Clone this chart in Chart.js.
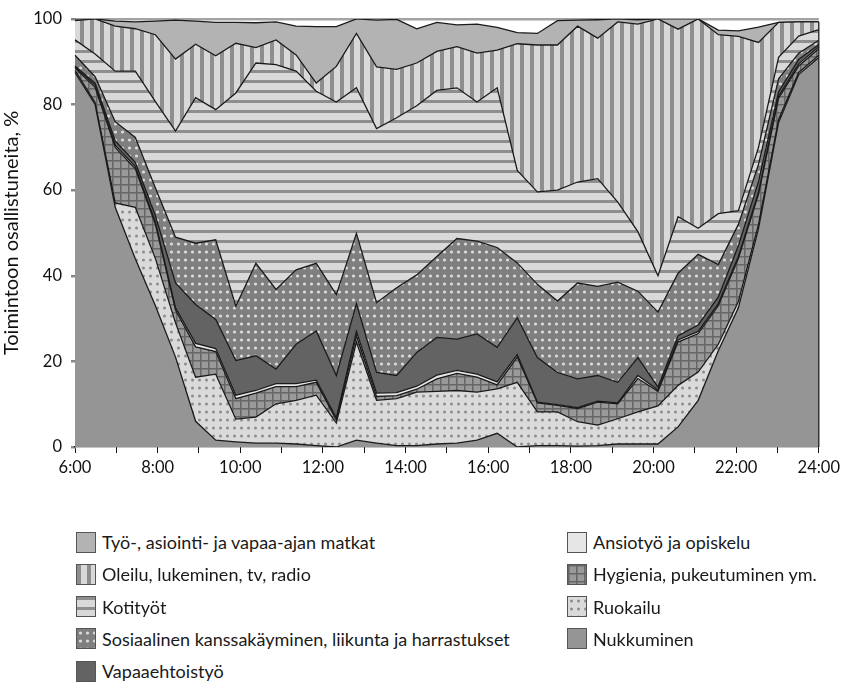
<!DOCTYPE html>
<html>
<head>
<meta charset="utf-8">
<script src="https://cdn.jsdelivr.net/npm/chart.js@4.4.1/dist/chart.umd.min.js"></script>
<style>
  body { margin: 0; background: #fff; font-family: Lato, sans-serif; }
  #wrap { position: relative; width: 845px; height: 684px; }
  #chart { position: absolute; left: 0; top: 0; }
  .item { position: absolute; display: flex; align-items: center; font-size: 18px; color: #1a1a1a; white-space: nowrap; }
  .item canvas { border: 1px solid #555; margin-right: 6px; }
</style>
</head>
<body>
<div id="wrap">
  <canvas id="chart" width="845" height="490"></canvas>
  <div id="legend"></div>
</div>
<script>
// 38 time slots evenly spread between 6:00 and 24:00
const slots = Array.from({ length: 38 }, (_, i) => i);
const tickHours = [6, 8, 10, 12, 14, 16, 18, 20, 22, 24];

const nukkuminen = [87.5, 80, 56, 44, 33, 21, 6, 1.6, 1.2, 0.9, 0.9, 0.7, 0.3, 0, 1.6, 0.9, 0.3, 0.3, 0.7, 0.9, 1.6, 3.2, 0, 0.3, 0.3, 0.2, 0.3, 0.7, 0.7, 0.7, 4.7, 10.9, 22.5, 32.5, 51, 75.8, 87, 91];
const ruokailu = [0.5, 0.5, 1, 12, 11, 8, 10.3, 15.4, 5.3, 6.1, 9.2, 10.2, 11.8, 5.6, 22.9, 10, 11, 12.5, 12.3, 12.3, 11.2, 10.4, 15.1, 7.9, 7.9, 5.7, 4.8, 5.9, 7.5, 8.9, 9.7, 6.6, 1.5, 1.5, 1, 0.7, 0.5, 0.5];
const hygienia = [0.5, 3.5, 13, 9, 8, 3, 7.1, 5.3, 4.8, 5.6, 4, 3.2, 3, 0.7, 1.5, 0.9, 0.7, 0.7, 2.9, 4, 3.5, 0.9, 5.9, 2.1, 1.5, 3.1, 5.4, 3.5, 7.8, 3.4, 10.1, 9, 9, 10, 7, 5, 1.5, 1.5];
const ansiotyo = [0.2, 0.5, 0.5, 0.5, 0.5, 0.5, 0.8, 0.7, 0.8, 0.6, 0.7, 0.7, 0.5, 0.5, 1, 0.8, 0.7, 0.7, 0.9, 0.7, 0.7, 0.7, 0.6, 0.2, 0.2, 0.2, 0.2, 0.2, 0.7, 0.3, 0.5, 0.5, 0.5, 0.5, 0.5, 0.5, 0.5, 0.5];
const vapaaehtoistyo = [0.3, 0.5, 1, 1, 1.5, 5.8, 9.1, 6.8, 8.1, 8.1, 3.4, 9.2, 11.5, 9.9, 6.5, 4.8, 4, 7.9, 8.8, 7.3, 9.4, 8.1, 8.6, 10.4, 7.5, 6.7, 6, 4.8, 4.2, 0.7, 1, 1.5, 1.5, 2.5, 2.5, 1, 1, 0.5];
const sosiaalinen = [2.5, 1.5, 4.5, 5.8, 6.5, 10.7, 14.3, 18.6, 12.7, 21.6, 18.6, 17.4, 15.8, 18.9, 16.4, 16.3, 20.5, 18.1, 18.9, 23.5, 21.7, 23.3, 12.8, 17.1, 16.7, 22.4, 20.8, 23.4, 15.5, 17.5, 14.6, 16.5, 7.6, 5, 4, 3, 1.5, 1];
const kotityot = [3.6, 5.3, 11.8, 15.5, 20.2, 24.8, 34, 30.4, 49.8, 46.8, 52.5, 46.4, 40.2, 45, 34, 40.7, 39.7, 39.5, 38.8, 35.2, 32.5, 37.3, 21.6, 21.6, 25.9, 23.6, 25.2, 18.7, 13.9, 8.5, 13.2, 6.1, 11.9, 3.2, 4, 5, 4, 2.5];
const oleilu = [4.5, 8.2, 10.5, 9.9, 15.6, 16.8, 12.5, 12.6, 11.6, 3.6, 5.8, 3.8, 1.9, 8.3, 12.7, 14.4, 11.3, 10, 9.1, 9.6, 11.4, 8.8, 29.6, 34.3, 33.9, 36.4, 32.8, 42.1, 48.5, 60, 43.8, 48.9, 41.8, 40.7, 24.5, 8.2, 3.3, 1.8];
const matkat = [0.4, 0, 1.2, 1.6, 3.2, 9.1, 5.4, 7.8, 4.9, 5.8, 4.2, 6.7, 13.2, 9.3, 3.4, 10.9, 11.7, 8, 6.8, 5.1, 6.8, 5.3, 2.6, 2.7, 5.7, 1.4, 4.3, 0.7, 1, 0, 2.4, 0, 1.1, 1.3, 3.6, 0, 0, 0];

// tiles for the grayscale fills
function tile(w, h, paint) {
  const c = document.createElement("canvas");
  c.width = w;
  c.height = h;
  paint(c.getContext("2d"), w, h);
  return c;
}
function solid(color) {
  return tile(4, 4, (g, w, h) => { g.fillStyle = color; g.fillRect(0, 0, w, h); });
}
function dots(bg, fg, w, h, r) {
  return tile(w, h, (g) => {
    g.fillStyle = bg; g.fillRect(0, 0, w, h);
    g.fillStyle = fg; g.beginPath(); g.arc(w / 2, h / 2, r, 0, Math.PI * 2); g.fill();
  });
}
function stripes(vertical) {
  return tile(10, 10, (g, w, h) => {
    g.fillStyle = "#d9d9d9"; g.fillRect(0, 0, w, h);
    g.fillStyle = "#8e8e8e";
    if (vertical) g.fillRect(0, 0, 4, h); else g.fillRect(0, 0, w, 3);
  });
}
function crosshatch() {
  return tile(8, 8, (g, w, h) => {
    g.fillStyle = "#999999"; g.fillRect(0, 0, w, h);
    g.fillStyle = "#666666"; g.fillRect(0, 0, 1.5, h); g.fillRect(0, 0, w, 1.5);
  });
}

const series = [
  { label: "Nukkuminen", data: nukkuminen, tile: solid("#959595") },
  { label: "Ruokailu", data: ruokailu, tile: dots("#dadada", "#8c8c8c", 7, 8, 1.5) },
  { label: "Hygienia, pukeutuminen ym.", data: hygienia, tile: crosshatch() },
  { label: "Ansiotyö ja opiskelu", data: ansiotyo, tile: solid("#e6e6e6") },
  { label: "Vapaaehtoistyö", data: vapaaehtoistyo, tile: solid("#636363") },
  { label: "Sosiaalinen kanssakäyminen, liikunta ja harrastukset", data: sosiaalinen, tile: dots("#7f7f7f", "#dcdcdc", 7, 8, 1.6) },
  { label: "Kotityöt", data: kotityot, tile: stripes(false) },
  { label: "Oleilu, lukeminen, tv, radio", data: oleilu, tile: stripes(true) },
  { label: "Työ-, asiointi- ja vapaa-ajan matkat", data: matkat, tile: solid("#b3b3b3") },
];

const canvas = document.getElementById("chart");
const ctx = canvas.getContext("2d");
const font = { family: "Lato", size: 16.5 };

const datasets = series.map((s, i) => ({
  label: s.label,
  data: s.data,
  backgroundColor: ctx.createPattern(s.tile, "repeat"),
  borderColor: "#1a1a1a",
  borderWidth: 1.3,
  pointRadius: 0,
  tension: 0,
  fill: i === 0 ? "origin" : "-1",
}));

// closes the stack on the right edge, like the original outline
const rightEdge = {
  id: "rightEdge",
  afterDatasetsDraw(chart) {
    const { x, y } = chart.scales;
    const last = slots.length - 1;
    const top = series.reduce((acc, s) => acc + s.data[last], 0);
    const g = chart.ctx;
    g.save();
    g.strokeStyle = "#1a1a1a";
    g.lineWidth = 1.3;
    g.beginPath();
    g.moveTo(x.getPixelForValue(last), y.getPixelForValue(0));
    g.lineTo(x.getPixelForValue(last), y.getPixelForValue(top));
    g.stroke();
    g.restore();
  },
};

new Chart(canvas, {
  type: "line",
  data: { labels: slots, datasets },
  plugins: [rightEdge],
  options: {
    responsive: false,
    animation: false,
    devicePixelRatio: 1,
    layout: { padding: { top: 15, right: 26, left: 0, bottom: 0 } },
    plugins: { legend: { display: false }, tooltip: { enabled: false } },
    scales: {
      x: { type: "category", display: false, offset: false },
      hours: {
        type: "linear",
        position: "bottom",
        min: 6,
        max: 24,
        z: 1,
        ticks: {
          stepSize: 1,
          autoSkip: false,
          maxRotation: 0,
          font,
          color: "#111",
          padding: 5,
          callback: (v) => (tickHours.includes(v) ? v + ":00" : ""),
        },
        grid: { drawOnChartArea: false, tickLength: 6, tickColor: "#111" },
        border: { color: "#111", width: 1.2 },
        afterFit: (s) => { s.height = 43; },
      },
      y: {
        stacked: true,
        min: 0,
        max: 100,
        z: 1,
        ticks: { stepSize: 20, font, color: "#111", padding: 9 },
        grid: {
          color: (c) => (c.tick && c.tick.value === 100 ? "#a3a3a3" : "transparent"),
          lineWidth: 2.5,
          tickLength: 4,
          tickColor: "#888",
        },
        border: { color: "#888" },
        title: { display: true, text: "Toimintoon osallistuneita, %", font: { family: "Lato", size: 20 }, color: "#111", padding: { top: 0, bottom: 0 } },
        afterFit: (s) => { s.width = 75; },
      },
    },
  },
});

// legend in two columns, reversed stack order
const legend = document.getElementById("legend");
const order = series.slice().reverse();
order.forEach((s, k) => {
  const col = k < 5 ? 0 : 1;
  const row = k < 5 ? k : k - 5;
  const item = document.createElement("div");
  item.className = "item";
  item.style.left = (col === 0 ? 76 : 567) + "px";
  item.style.top = (531 + row * 32.3) + "px";
  const sw = document.createElement("canvas");
  sw.width = 18;
  sw.height = 19;
  const g = sw.getContext("2d");
  g.fillStyle = g.createPattern(s.tile, "repeat");
  g.fillRect(0, 0, 18, 19);
  item.appendChild(sw);
  const txt = document.createElement("span");
  txt.textContent = s.label;
  item.appendChild(txt);
  legend.appendChild(item);
});
</script>
</body>
</html>
